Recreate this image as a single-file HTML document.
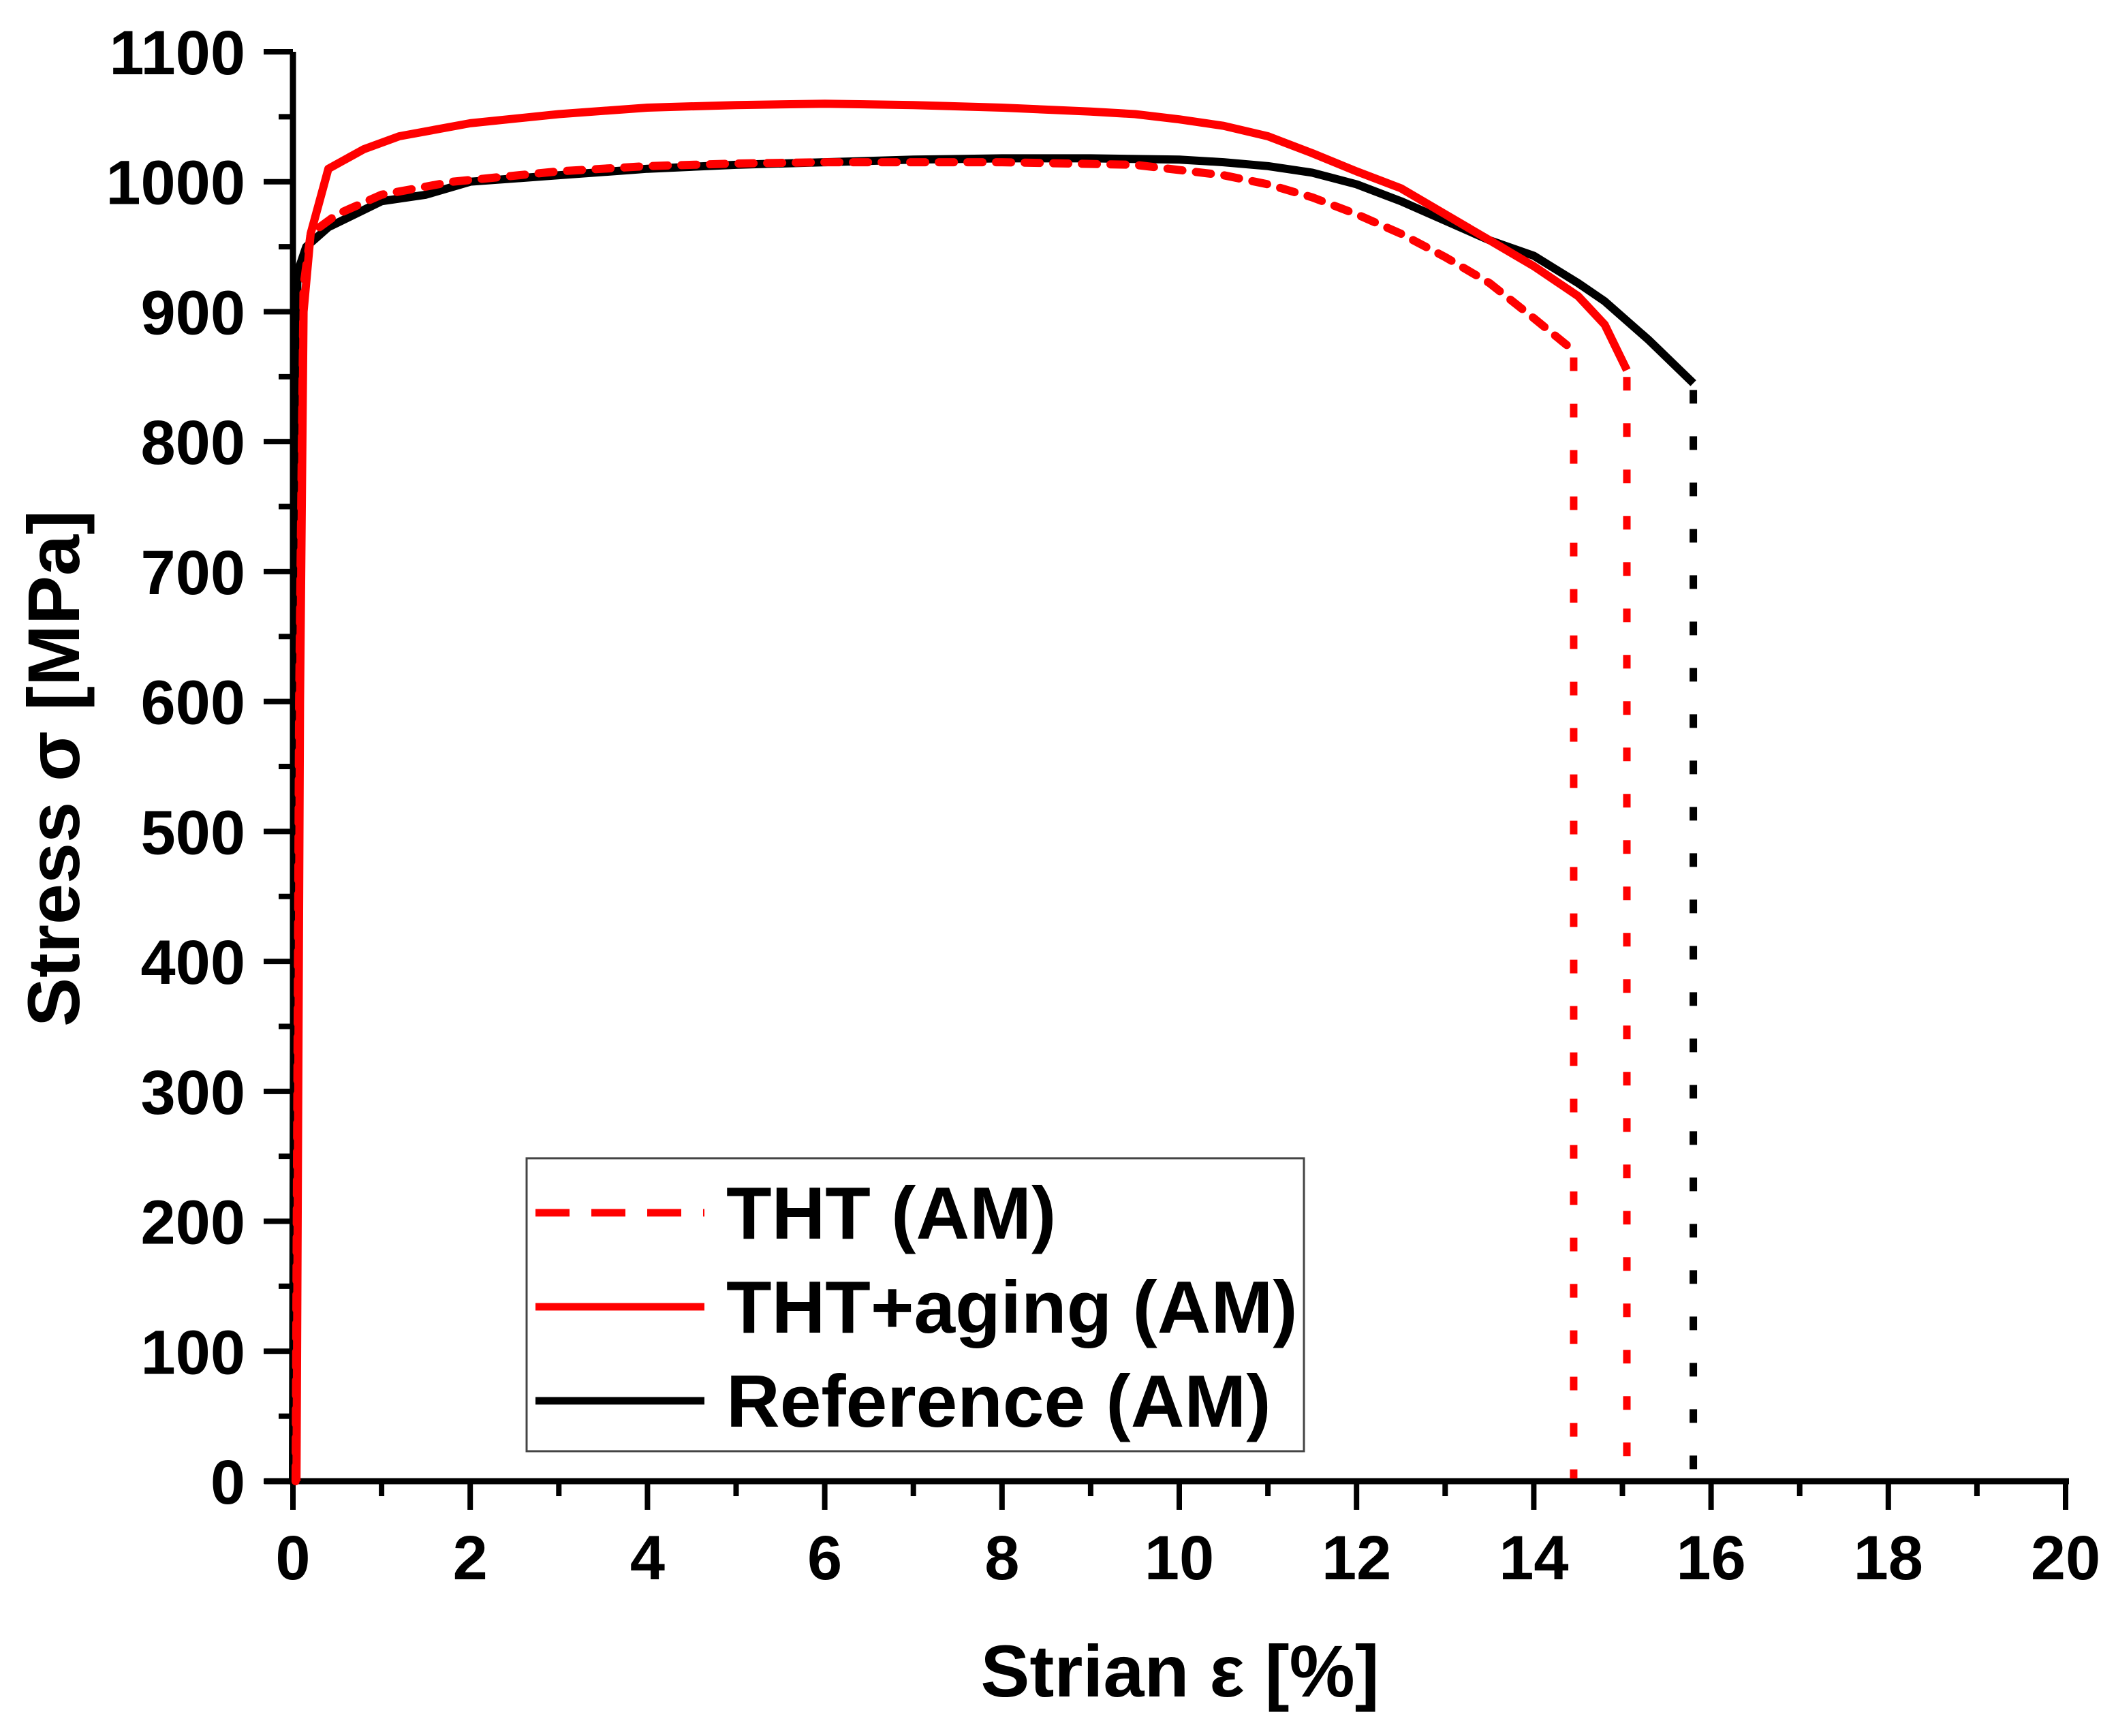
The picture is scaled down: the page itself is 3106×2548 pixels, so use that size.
<!DOCTYPE html>
<html><head><meta charset="utf-8"><style>
html,body{margin:0;padding:0;background:#fff}
svg{display:block}
text{font-family:"Liberation Sans",Arial,sans-serif;font-weight:bold;fill:#000}
</style></head><body>
<svg id="chart" width="3106" height="2548" viewBox="0 0 3106 2548" xmlns="http://www.w3.org/2000/svg">
<g id="axes"></g>
<g id="series"></g>
<text x="0" y="0" font-size="108" text-anchor="middle" transform="translate(116,1128) rotate(-90)">Stress σ [MPa]</text>
<text x="1732" y="2490" font-size="108" text-anchor="middle">Strian ε [%]</text>
<g>
<rect x="773" y="1700" width="1141" height="430" fill="#fff" stroke="#444" stroke-width="3"/>
<line x1="786" y1="1780" x2="1034" y2="1780" stroke="#ff0000" stroke-width="11" stroke-dasharray="50,32"/>
<text x="1066" y="1818" font-size="109">THT (AM)</text>
<line x1="786" y1="1918" x2="1034" y2="1918" stroke="#ff0000" stroke-width="11"/>
<text x="1066" y="1956" font-size="109">THT+aging (AM)</text>
<line x1="786" y1="2056" x2="1034" y2="2056" stroke="#000" stroke-width="11"/>
<text x="1066" y="2094" font-size="109">Reference (AM)</text>
</g>
</svg>
<script>
const xTicks=[0,2,4,6,8,10,12,14,16,18,20];
const yTicks=[0,100,200,300,400,500,600,700,800,900,1000,1100];
const refStrain=[0,0.02,0.05,0.15,0.4,1.0,1.5,2.0,3,4,5,6,7,8,9,10,10.5,11,11.5,12,12.5,13,13.5,14,14.5,14.8,15.3,15.8];
const refStress=[0,600,930,950,965,985,990,1000,1005,1010,1013,1015,1017,1018,1018,1017,1015,1012,1007,998,985,970,955,943,922,908,878,845];
const agingStrain=[0.04,0.08,0.12,0.2,0.4,0.8,1.2,2,3,4,5,6,7,8,9,9.5,10,10.5,11,11.5,12,12.5,13,13.5,14,14.5,14.8,15.05];
const agingStress=[0,600,900,960,1010,1025,1035,1045,1052,1057,1059,1060,1059,1057,1054,1052,1048,1043,1035,1022,1008,995,975,955,935,912,890,855];
const thtStrain=[0.03,0.07,0.12,0.2,0.5,1,1.8,3,4,5,6,8,9.5,10.5,11,11.5,12,12.5,13,13.5,14,14.45];
const thtStress=[0,600,920,960,975,990,1000,1008,1012,1014,1015,1015,1013,1005,998,988,975,960,942,922,895,870];
const fracStrain=[14.45,15.05,15.8];
const fracStress=[870,855,845];
const NS='http://www.w3.org/2000/svg';
const X0=430,X1=3032,Y0=2174,Y1=76;
function sx(v){return X0+(v-0)/(20-0)*(X1-X0);}
function sy(v){return Y0-(v-0)/(1100-0)*(Y0-Y1);}
function mk(tag,attrs,parent){const e=document.createElementNS(NS,tag);for(const k in attrs)e.setAttribute(k,attrs[k]);parent.appendChild(e);return e;}
const ax=document.getElementById('axes');
const se=document.getElementById('series');
let l=mk('line',{x1:X0,y1:Y1,x2:X0,y2:Y0+5,stroke:'#000','stroke-width':9},ax);


l=mk('line',{x1:388,y1:Y0,x2:X1+5,y2:Y0,stroke:'#000','stroke-width':9},ax);


for(let v=0;v<=20;v+=1){const major=v%2===0;
 const t=mk('line',{x1:sx(v),y1:Y0,x2:sx(v),y2:Y0+(major?42:22),stroke:'#000','stroke-width':8},ax);
 
 }
for(let v=0;v<=1100;v+=50){const major=v%100===0;
 const t=mk('line',{x1:X0,y1:sy(v),x2:X0-(major?43:21),y2:sy(v),stroke:'#000','stroke-width':8},ax);
 
 }
xTicks.forEach(v=>{const t=mk('text',{x:sx(v),y:2318,'font-size':92,'text-anchor':'middle'},ax);t.textContent=v;
 
 });
yTicks.forEach(v=>{const t=mk('text',{x:360,y:sy(v)+33,'font-size':92,'text-anchor':'end'},ax);t.textContent=v;
 
 });
function path(xs,ys){return xs.map((x,i)=>(i?'L':'M')+sx(x).toFixed(1)+','+sy(ys[i]).toFixed(1)).join(' ');}
let p=mk('path',{d:path(refStrain,refStress),fill:'none',stroke:'#000','stroke-width':12,'stroke-linejoin':'round'},se);


p=mk('path',{d:path(thtStrain,thtStress),fill:'none',stroke:'#ff0000','stroke-width':12,'stroke-dasharray':'22,20','stroke-linecap':'round','stroke-linejoin':'round'},se);


p=mk('path',{d:path(agingStrain,agingStress),fill:'none',stroke:'#ff0000','stroke-width':12,'stroke-linejoin':'round'},se);


const fracColors=['#ff0000','#ff0000','#000'];
fracStrain.forEach((v,i)=>{const f=mk('line',{x1:sx(v),y1:sy(fracStress[i])+10,x2:sx(v),y2:Y0-4,stroke:fracColors[i],'stroke-width':11,'stroke-dasharray':'20,48'},se);
 
 });
</script>
</body></html>
